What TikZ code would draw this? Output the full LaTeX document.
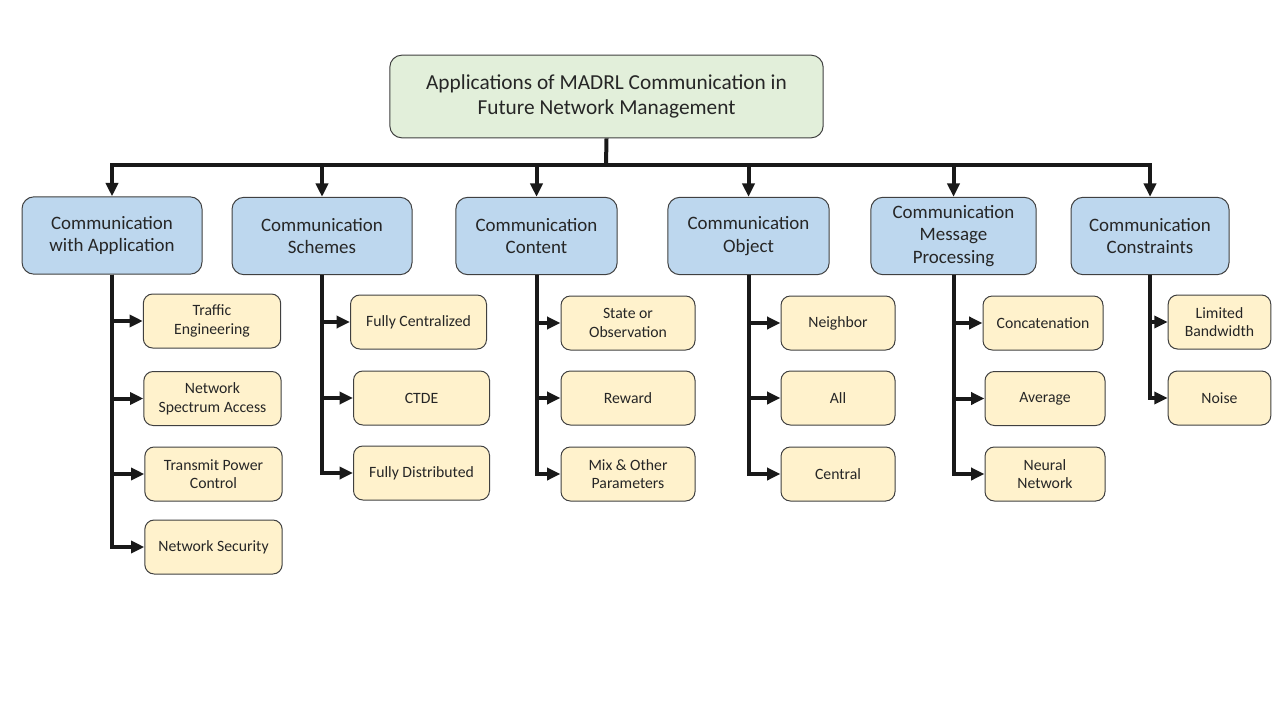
\documentclass[tikz,border=0pt]{standalone}
\usepackage{fontspec}
\setmainfont{Carlito}
\usepackage{tikz}
\usetikzlibrary{arrows.meta, positioning}
\definecolor{rootgreen}{RGB}{226,239,218}
\definecolor{catblue}{RGB}{189,215,238}
\definecolor{leafyellow}{RGB}{255,242,204}
\definecolor{edgegray}{RGB}{64,64,64}
\definecolor{textgray}{RGB}{38,38,38}
\tikzset{
  rootbox/.style={
    rectangle, rounded corners=9pt, draw=edgegray, fill=rootgreen,
    line width=0.75pt, minimum width=325pt, minimum height=62pt,
    align=center, text=textgray, font=\fontsize{16}{19}\selectfont
  },
  catbox/.style={
    rectangle, rounded corners=9pt, draw=edgegray, fill=catblue,
    line width=0.75pt, minimum width=#1, minimum height=58pt,
    align=center, text=textgray, font=\fontsize{14.2}{17}\selectfont
  },
  leafbox/.style={
    rectangle, rounded corners=7pt, draw=edgegray, fill=leafyellow,
    line width=0.75pt, minimum width=#1, minimum height=40.5pt,
    align=center, text=textgray, font=\fontsize{11.8}{14}\selectfont
  },
  arrow/.style={line width=3pt, -{Triangle[length=10pt, width=9pt]}, color=black!90},
  busline/.style={line width=3pt, color=black!90},
}

\begin{document}
\begin{tikzpicture}[x=0.75pt, y=-0.75pt]
  \useasboundingbox (0,0) rectangle (1280,720);

  \node (root) [rootbox] at (606.5,96.5)
    {Applications of MADRL Communication in\\Future Network Management};

  % categories
  \node (app)    [catbox=135pt]   at (112,235.5)  {Communication\\with Application};
  \node (scheme) [catbox=135pt]   at (322,236)    {Communication\\Schemes};
  \node (content)[catbox=121pt]   at (536.5,236)  {Communication\\Content};
  \node (object) [catbox=121pt]   at (748.5,236)  {Communication\\Object};
  \node (proc)   [catbox=124pt]   at (953.5,236)  {Communication\\Message\\Processing};
  \node (constr) [catbox=118.5pt] at (1150,236)   {Communication\\Constraints};

  % leaves
  \node (traffic)  [leafbox=103pt] at (212,321)    {Traffic\\Engineering};
  \node (spectrum) [leafbox=103pt] at (212.5,398.5) {Network\\Spectrum Access};
  \node (power)    [leafbox=103pt] at (213.5,474)  {Transmit Power\\Control};
  \node (security) [leafbox=103pt] at (213.5,547)  {Network Security};

  \node (central)  [leafbox=102pt] at (418.5,322)  {Fully Centralized};
  \node (ctde)     [leafbox=102pt] at (421.5,398)  {CTDE};
  \node (distrib)  [leafbox=102pt] at (421.5,473)  {Fully Distributed};

  \node (state)    [leafbox=100.5pt] at (628,323)  {State or\\Observation};
  \node (reward)   [leafbox=100.5pt] at (628,398)  {Reward};
  \node (mix)      [leafbox=100.5pt] at (628,474)  {Mix \& Other\\Parameters};

  \node (neighbor) [leafbox=85.5pt] at (838,323)   {Neighbor};
  \node (all)      [leafbox=85.5pt] at (838,398)   {All};
  \node (centerobj)[leafbox=85.5pt] at (838,474)   {Central};

  \node (concat)   [leafbox=90pt] at (1043,323)    {Concatenation};
  \node (average)  [leafbox=90pt] at (1045,398.5)  {Average};
  \node (neural)   [leafbox=90pt] at (1045,474)    {Neural\\Network};

  \node (bandwidth)[leafbox=77pt] at (1219.5,322)  {Limited\\Bandwidth};
  \node (noise)    [leafbox=77pt] at (1219.5,398)  {Noise};

  % root to categories
  \coordinate (bus) at (606,165);
  \draw [busline] (root.south) -- (bus);
  \draw [arrow] (bus) -| (app.north);
  \draw [arrow] (bus) -| (scheme.north);
  \draw [arrow] (bus) -| (content.north);
  \draw [arrow] (bus) -| (object.north);
  \draw [arrow] (bus) -| (proc.north);
  \draw [arrow] (bus) -| (constr.north);

  % categories to leaves
  \draw [arrow] (app.south) |- (traffic.west);
  \draw [arrow] (app.south) |- (spectrum.west);
  \draw [arrow] (app.south) |- (power.west);
  \draw [arrow] (app.south) |- (security.west);

  \draw [arrow] (scheme.south) |- (central.west);
  \draw [arrow] (scheme.south) |- (ctde.west);
  \draw [arrow] (scheme.south) |- (distrib.west);

  \draw [arrow] (content.south) |- (state.west);
  \draw [arrow] (content.south) |- (reward.west);
  \draw [arrow] (content.south) |- (mix.west);

  \draw [arrow] (object.south) |- (neighbor.west);
  \draw [arrow] (object.south) |- (all.west);
  \draw [arrow] (object.south) |- (centerobj.west);

  \draw [arrow] (proc.south) |- (concat.west);
  \draw [arrow] (proc.south) |- (average.west);
  \draw [arrow] (proc.south) |- (neural.west);

  \draw [arrow] (constr.south) |- (bandwidth.west);
  \draw [arrow] (constr.south) |- (noise.west);
\end{tikzpicture}
\end{document}
